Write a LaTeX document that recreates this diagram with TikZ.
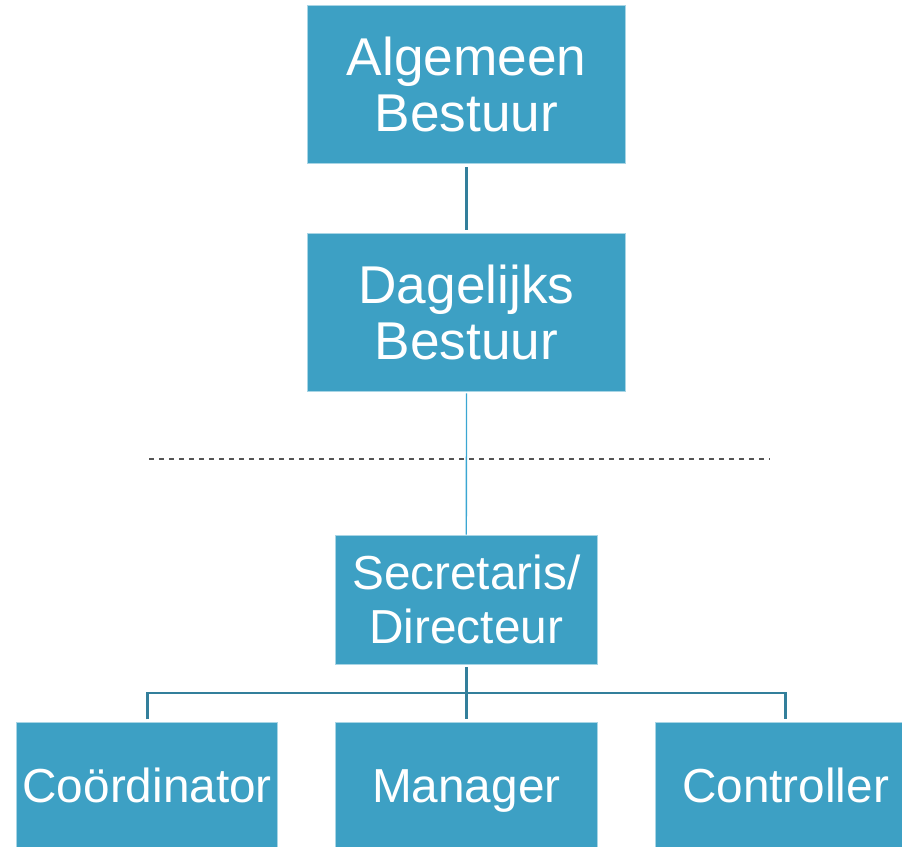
\documentclass[tikz,border=0pt]{standalone}
\usepackage{fontspec}
\setmainfont{Liberation Sans}
\definecolor{boxfill}{HTML}{3DA0C4}
\definecolor{boxedge}{HTML}{A8D5E5}
\definecolor{darkline}{HTML}{337F9B}
\definecolor{lightline}{HTML}{3BA6D2}
\definecolor{sepgray}{HTML}{555555}
\begin{document}
\begin{tikzpicture}[x=0.75pt,y=-0.75pt,
  box/.style={rectangle, fill=boxfill, draw=boxedge, line width=0.6pt, inner sep=0pt, text=white, align=center},
  bigbox/.style={box, minimum width=238.8pt, minimum height=118.2pt, font=\fontsize{39.9}{42}\selectfont},
  midbox/.style={box, minimum width=196pt, minimum height=97pt, font=\fontsize{35.8}{40.5}\selectfont},
  lowbox/.style={midbox, text height=23pt, text depth=0pt},
  darkconn/.style={draw=darkline, line width=2pt},
  lightconn/.style={draw=lightline, line width=1pt},
  treeconn/.style={draw=darkline, line width=2.2pt},
  sepline/.style={draw=sepgray, line width=1pt, dash pattern=on 3.4pt off 4.1pt}
]
\clip (0,0) rectangle (902,846);
\useasboundingbox (0,0) rectangle (902,846);
\node[bigbox] (ab) at (466.5,84.5) {Algemeen\\Bestuur};
\node[bigbox] (db) at (466.5,312.2) {Dagelijks\\Bestuur};
\node[midbox] (sd) at (466.3,599.7) {Secretaris/\\Directeur};
\node[lowbox] (co) at (147.2,787) {Coördinator};
\node[lowbox] (ma) at (466.3,787) {Manager};
\node[lowbox] (ct) at (785.6,787) {Controller};
\coordinate (sepL) at (149,459);
\coordinate (sepR) at (770,459);
\coordinate (bus) at (466.3,693);
\draw[sepline] (sepL) -- (sepR);
\draw[darkconn, shorten <=2.5pt, shorten >=2.5pt] (ab.south) -- (db.north);
\draw[lightconn, shorten <=1.5pt] (db.south) -- (sd.north);
\draw[treeconn, shorten <=2pt, shorten >=2pt] (sd.south) -- (ma.north);
\draw[treeconn, shorten <=2pt, shorten >=2pt] (co.north) |- (bus) -| (ct.north);
\end{tikzpicture}
\end{document}
